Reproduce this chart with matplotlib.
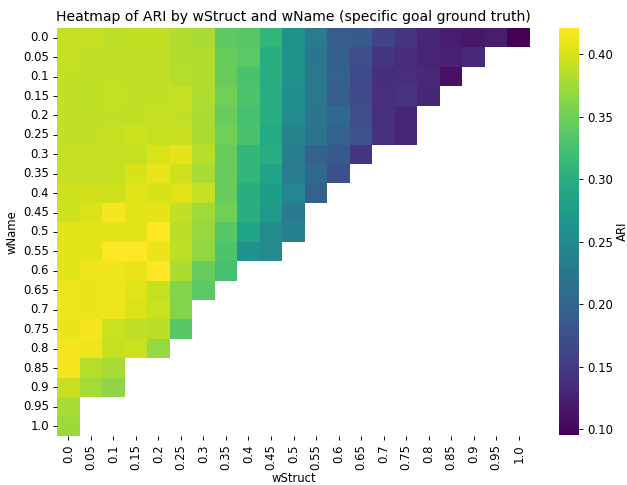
import numpy as np
import pandas as pd
import matplotlib
matplotlib.use("Agg")
import matplotlib.pyplot as plt
import seaborn as sns

w_struct = ["0.0", "0.05", "0.1", "0.15", "0.2", "0.25", "0.3", "0.35", "0.4", "0.45", "0.5",
            "0.55", "0.6", "0.65", "0.7", "0.75", "0.8", "0.85", "0.9", "0.95", "1.0"]
w_name = list(w_struct)

# ARI per wName row, values listed by wStruct (cells beyond the row end are empty)
ari_rows = [
    [0.392, 0.392, 0.389, 0.391, 0.391, 0.382, 0.379, 0.340, 0.335, 0.310, 0.262,
     0.230, 0.190, 0.188, 0.160, 0.145, 0.130, 0.120, 0.115, 0.122, 0.0955],
    [0.392, 0.390, 0.390, 0.390, 0.390, 0.384, 0.384, 0.345, 0.338, 0.300, 0.260,
     0.222, 0.193, 0.172, 0.146, 0.135, 0.128, 0.125, 0.132],
    [0.390, 0.390, 0.390, 0.390, 0.390, 0.385, 0.382, 0.345, 0.328, 0.300, 0.260,
     0.225, 0.195, 0.168, 0.138, 0.139, 0.132, 0.110],
    [0.390, 0.389, 0.392, 0.390, 0.390, 0.393, 0.382, 0.350, 0.330, 0.298, 0.256,
     0.225, 0.190, 0.168, 0.140, 0.145, 0.130],
    [0.390, 0.390, 0.390, 0.390, 0.393, 0.390, 0.380, 0.345, 0.325, 0.298, 0.250,
     0.222, 0.205, 0.172, 0.140, 0.129],
    [0.390, 0.390, 0.392, 0.396, 0.392, 0.394, 0.380, 0.350, 0.328, 0.292, 0.242,
     0.220, 0.195, 0.178, 0.140, 0.129],
    [0.392, 0.392, 0.392, 0.392, 0.402, 0.408, 0.386, 0.345, 0.310, 0.298, 0.235,
     0.197, 0.185, 0.145],
    [0.392, 0.392, 0.392, 0.401, 0.410, 0.398, 0.379, 0.345, 0.310, 0.285, 0.230,
     0.205, 0.175],
    [0.396, 0.398, 0.398, 0.405, 0.401, 0.405, 0.392, 0.345, 0.300, 0.275, 0.245,
     0.197],
    [0.396, 0.402, 0.417, 0.406, 0.408, 0.390, 0.375, 0.350, 0.300, 0.270, 0.228],
    [0.406, 0.407, 0.407, 0.407, 0.421, 0.387, 0.371, 0.335, 0.285, 0.252, 0.237],
    [0.406, 0.407, 0.419, 0.421, 0.410, 0.388, 0.367, 0.330, 0.262, 0.250],
    [0.406, 0.413, 0.413, 0.410, 0.421, 0.380, 0.345, 0.325],
    [0.413, 0.410, 0.413, 0.405, 0.393, 0.360, 0.338],
    [0.413, 0.410, 0.413, 0.402, 0.395, 0.360],
    [0.410, 0.417, 0.395, 0.390, 0.387, 0.335],
    [0.417, 0.413, 0.393, 0.395, 0.370],
    [0.416, 0.385, 0.378],
    [0.394, 0.377, 0.366],
    [0.378],
    [0.372],
]

grid = np.full((len(w_name), len(w_struct)), np.nan)
for i, row in enumerate(ari_rows):
    grid[i, :len(row)] = row
df = pd.DataFrame(grid, index=w_name, columns=w_struct)

W, H = 627, 485
fig = plt.figure(figsize=(W / 84, H / 84), dpi=84)
ax = fig.add_axes([57 / W, 49 / H, 473 / W, 408 / H])
cax = fig.add_axes([559 / W, 50 / H, 20 / W, 407 / H])
sns.heatmap(df, cmap="viridis", ax=ax, cbar_ax=cax, cbar_kws={"label": "ARI"},
            xticklabels=w_struct, yticklabels=w_name)
ax.set_xlabel("wStruct", labelpad=2)
ax.set_ylabel("wName")
ax.set_title("Heatmap of ARI by wStruct and wName (specific goal ground truth)")
cax.set_ylabel("ARI", labelpad=2)
plt.setp(ax.get_xticklabels(), rotation=90)
plt.setp(ax.get_yticklabels(), rotation=0)

fig.savefig("out.png", dpi=84)
